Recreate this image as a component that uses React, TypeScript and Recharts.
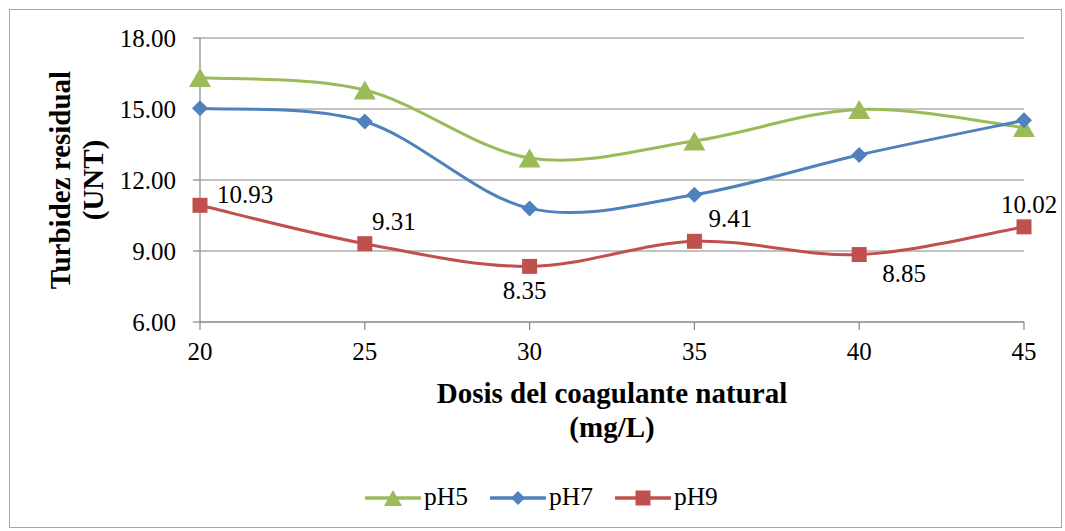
import { CartesianGrid, LabelList, Line, LineChart, XAxis, YAxis } from "recharts";

const doses = [20, 25, 30, 35, 40, 45];
const ph5 = [16.33, 15.8, 12.93, 13.65, 14.98, 14.22];
const ph7 = [15.03, 14.47, 10.8, 11.38, 13.06, 14.52];
const ph9 = [10.93, 9.31, 8.35, 9.41, 8.85, 10.02];
const yTicks = [6, 9, 12, 15, 18];

const data = doses.map((d, i) => ({ dose: d, pH5: ph5[i], pH7: ph7[i], pH9: ph9[i] }));

const GREEN = "#9bbb59";
const BLUE = "#4f81bd";
const RED = "#c0504d";
const AXIS = "#868686";
const FONT = "Liberation Serif";

// where each pH9 label sits relative to its point (centre of digits)
const labelShift = [
  [45, -10],
  [29, -22],
  [-5, 25],
  [36, -22],
  [45, 19],
  [5, -22],
];

// Excel-like smoothed line (Catmull-Rom through the points)
function excelSmooth(context: any) {
  let pts: number[][] = [];
  return {
    areaStart() {},
    areaEnd() {},
    lineStart() {
      pts = [];
    },
    point(x: number, y: number) {
      pts.push([+x, +y]);
    },
    lineEnd() {
      if (!pts.length) return;
      context.moveTo(pts[0][0], pts[0][1]);
      for (let i = 0; i < pts.length - 1; i++) {
        const p0 = pts[i - 1] || pts[i];
        const p1 = pts[i];
        const p2 = pts[i + 1];
        const p3 = pts[i + 2] || p2;
        const t = 1 / 6;
        context.bezierCurveTo(
          p1[0] + (p2[0] - p0[0]) * t,
          p1[1] + (p2[1] - p0[1]) * t,
          p2[0] - (p3[0] - p1[0]) * t,
          p2[1] - (p3[1] - p1[1]) * t,
          p2[0],
          p2[1]
        );
      }
    },
  };
}

const Triangle = ({ cx, cy, fill, w = 22, h = 19 }: any) =>
  cx == null ? null : (
    <path d={`M${cx},${cy - h / 2} L${cx + w / 2},${cy + h / 2} L${cx - w / 2},${cy + h / 2} Z`} fill={fill} />
  );

const Diamond = ({ cx, cy, fill, r = 8 }: any) =>
  cx == null ? null : <path d={`M${cx},${cy - r} L${cx + r},${cy} L${cx},${cy + r} L${cx - r},${cy} Z`} fill={fill} />;

const Square = ({ cx, cy, fill, s = 15 }: any) =>
  cx == null ? null : <rect x={cx - s / 2} y={cy - s / 2} width={s} height={s} fill={fill} />;

function Ph9Label(props: any) {
  const { x, y, value, index } = props;
  const [dx, dy] = labelShift[index] || [0, 0];
  return (
    <text x={x + dx} y={y + dy + 8} textAnchor="middle" style={{ fontFamily: FONT }} fontSize={25} fill="#000">
      {Number(value).toFixed(2)}
    </text>
  );
}

function YTitle({ viewBox }: any) {
  const cy = viewBox.y + viewBox.height / 2;
  return (
    <g style={{ fontFamily: FONT }} fontWeight="bold" fontSize={29} fill="#000">
      <text x={70} y={cy} transform={`rotate(-90 70 ${cy})`} textAnchor="middle">
        Turbidez residual
      </text>
      <text x={103} y={cy} transform={`rotate(-90 103 ${cy})`} textAnchor="middle">
        (UNT)
      </text>
    </g>
  );
}

function XTitle({ viewBox }: any) {
  const cx = viewBox.x + viewBox.width / 2;
  return (
    <g style={{ fontFamily: FONT }} fontWeight="bold" fontSize={29} fill="#000">
      <text x={cx} y={403} textAnchor="middle">
        Dosis del coagulante natural
      </text>
      <text x={cx} y={437} textAnchor="middle">
        (mg/L)
      </text>
    </g>
  );
}

const legendItems = [
  { name: "pH5", color: GREEN, marker: "tri" },
  { name: "pH7", color: BLUE, marker: "dia" },
  { name: "pH9", color: RED, marker: "sq" },
];

function ChartLegend() {
  return (
    <div
      style={{
        position: "absolute",
        top: 482,
        left: 0,
        width: 1065,
        display: "flex",
        justifyContent: "center",
        gap: 22,
        paddingLeft: 18,
        boxSizing: "border-box",
        fontSize: 25.5,
        color: "#000",
      }}
    >
      {legendItems.map((it) => (
        <div key={it.name} style={{ display: "flex", alignItems: "center", gap: 3 }}>
          <svg width={56} height={30}>
            <line x1={1} y1={16} x2={55} y2={16} stroke={it.color} strokeWidth={3.5} strokeLinecap="round" />
            {it.marker === "tri" && <Triangle cx={28} cy={16} fill={it.color} w={18} h={16} />}
            {it.marker === "dia" && <Diamond cx={28} cy={16} fill={it.color} r={7} />}
            {it.marker === "sq" && <Square cx={28} cy={16} fill={it.color} s={15} />}
          </svg>
          <span>{it.name}</span>
        </div>
      ))}
    </div>
  );
}

export default function App() {
  return (
    <div
      style={{
        position: "absolute",
        left: 0,
        top: 0,
        width: 1065,
        height: 531,
        background: "#fff",
        fontFamily: FONT,
      }}
    >
      <div
        style={{
          position: "absolute",
          left: 9,
          top: 9,
          width: 1053,
          height: 519,
          border: "1px solid #a6a6a6",
          boxSizing: "border-box",
        }}
      />
      <div style={{ position: "absolute", left: 0, top: 0 }}>
        <LineChart
          width={1065}
          height={531}
          data={data}
          margin={{ top: 38, right: 41, bottom: 179, left: 0 }}
          style={{ fontFamily: FONT }}
        >
          <CartesianGrid vertical={false} stroke={AXIS} strokeWidth={1.2} />
          <XAxis
            dataKey="dose"
            type="number"
            domain={[20, 45]}
            ticks={doses}
            height={30}
            stroke={AXIS}
            strokeWidth={1.2}
            tickSize={8}
            tickMargin={12}
            tick={{ fill: "#000", fontSize: 25, style: { fontFamily: FONT } }}
            label={{ content: XTitle }}
          />
          <YAxis
            type="number"
            domain={[6, 18]}
            ticks={yTicks}
            width={200}
            stroke={AXIS}
            strokeWidth={1.2}
            tickSize={7}
            tickMargin={17}
            tickFormatter={(v: number) => v.toFixed(2)}
            tick={{ fill: "#000", fontSize: 25, style: { fontFamily: FONT } }}
            label={{ content: YTitle }}
          />
          <Line
            dataKey="pH5"
            type={excelSmooth as any}
            stroke={GREEN}
            strokeWidth={3}
            dot={(p: any) => <Triangle key={`t${p.index}`} cx={p.cx} cy={p.cy} fill={GREEN} />}
            activeDot={false}
            isAnimationActive={false}
          />
          <Line
            dataKey="pH7"
            type={excelSmooth as any}
            stroke={BLUE}
            strokeWidth={3}
            dot={(p: any) => <Diamond key={`d${p.index}`} cx={p.cx} cy={p.cy} fill={BLUE} />}
            activeDot={false}
            isAnimationActive={false}
          />
          <Line
            dataKey="pH9"
            type={excelSmooth as any}
            stroke={RED}
            strokeWidth={3}
            dot={(p: any) => <Square key={`s${p.index}`} cx={p.cx} cy={p.cy} fill={RED} />}
            activeDot={false}
            isAnimationActive={false}
          >
            <LabelList dataKey="pH9" content={Ph9Label} />
          </Line>
        </LineChart>
      </div>
      <ChartLegend />
    </div>
  );
}
